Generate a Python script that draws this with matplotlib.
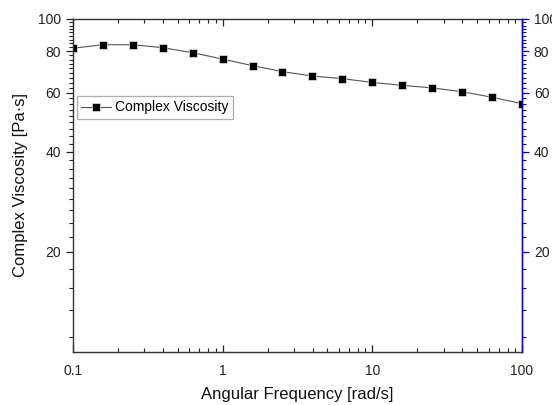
import matplotlib
matplotlib.use("Agg")
import matplotlib.pyplot as plt
import matplotlib.ticker as mticker
import numpy as np

plt.rcParams['font.family'] = ['Liberation Sans', 'DejaVu Sans']

# data
freq = [0.1, 0.158, 0.251, 0.398, 0.631, 1.0, 1.585, 2.51, 3.98, 6.31,
        10.0, 15.85, 25.1, 39.8, 63.1, 100.0]
visc = [81.7, 83.7, 83.7, 82.0, 79.2, 75.8, 72.4, 69.5, 67.4, 66.2,
        64.5, 63.2, 62.1, 60.5, 58.2, 55.7]
y_major = [20, 40, 60, 80, 100]
x_major = [0.1, 1, 10, 100]
x_labels = ['0.1', '1', '10', '100']

fig = plt.figure(figsize=(5.52, 4.05), dpi=100)
ax = fig.add_axes([0.1322, 0.1309, 0.8135, 0.8222])

ax.plot(freq, visc, color='#555555', lw=0.8, marker='s', ms=5.2,
        mfc='black', mec='white', mew=0.4, label='Complex Viscosity')

ax.set_xscale('log')
ax.set_yscale('log')
ax.set_xlim(0.1, 100)
ax.set_ylim(10, 100)

ax.xaxis.set_major_locator(mticker.FixedLocator(x_major))
ax.xaxis.set_major_formatter(mticker.FixedFormatter(x_labels))
ax.xaxis.set_minor_locator(mticker.LogLocator(base=10, subs=np.arange(2, 10)))
ax.xaxis.set_minor_formatter(mticker.NullFormatter())

y_minor = [v for v in np.arange(1, 46) * 20 / 9 if 10 <= v <= 100]
ax.yaxis.set_major_locator(mticker.FixedLocator(y_major))
ax.yaxis.set_major_formatter(mticker.FixedFormatter([str(v) for v in y_major]))
ax.yaxis.set_minor_locator(mticker.FixedLocator(y_minor))
ax.yaxis.set_minor_formatter(mticker.NullFormatter())

ax.tick_params(axis='x', which='both', direction='in', top=True, labelsize=10,
               colors='#222222', pad=9)
ax.tick_params(axis='x', which='major', length=5, width=0.9)
ax.tick_params(axis='x', which='minor', length=3, width=0.8)
ax.tick_params(axis='y', which='both', direction='out', labelsize=10,
               colors='#222222')
ax.tick_params(axis='y', which='major', length=5, width=0.9)
ax.tick_params(axis='y', which='minor', length=3, width=0.8)
for s in ax.spines.values():
    s.set_linewidth(1.0)
    s.set_color('#333333')

ax.set_xlabel('Angular Frequency [rad/s]', fontsize=12, color='#111111', labelpad=6)
ax.set_ylabel('Complex Viscosity [Pa·s]', fontsize=12, color='#111111', labelpad=7)

# right axis in blue
ax2 = ax.twinx()
ax2.set_yscale('log')
ax2.set_ylim(10, 100)
ax2.yaxis.set_major_locator(mticker.FixedLocator(y_major))
ax2.yaxis.set_major_formatter(mticker.FixedFormatter([str(v) for v in y_major]))
ax2.yaxis.set_minor_locator(mticker.FixedLocator(y_minor))
ax2.yaxis.set_minor_formatter(mticker.NullFormatter())
ax2.tick_params(axis='y', which='both', direction='out', color='blue',
                labelcolor='#222222', labelsize=10)
ax2.tick_params(axis='y', which='major', length=5, width=0.9)
ax2.tick_params(axis='y', which='minor', length=3, width=0.8)
ax2.spines['right'].set_color('blue')
ax2.spines['right'].set_linewidth(1.0)
for side in ['left', 'top', 'bottom']:
    ax2.spines[side].set_visible(False)

leg = ax.legend(loc='upper left', bbox_to_anchor=(0.008, 0.768), fontsize=10,
                frameon=True, fancybox=False, handlelength=2.2,
                borderpad=0.3, handletextpad=0.3, borderaxespad=0)
leg.get_frame().set_edgecolor('#999999')
leg.get_frame().set_linewidth(0.9)

fig.savefig('out.png', dpi=100)
